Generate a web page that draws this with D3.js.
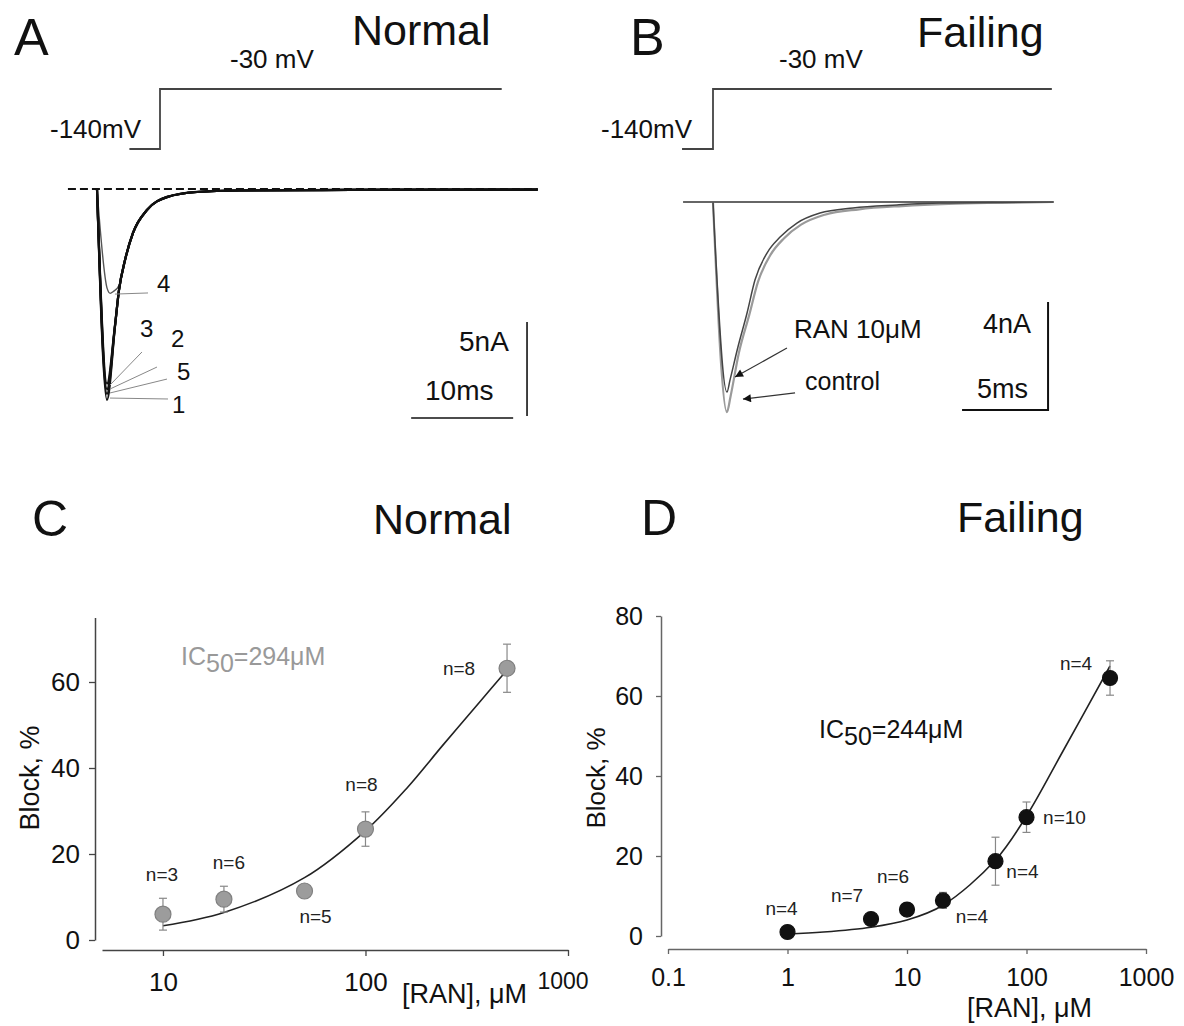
<!DOCTYPE html>
<html>
<head>
<meta charset="utf-8">
<script src="https://cdn.jsdelivr.net/npm/d3@7"></script>
<style>
  body { margin: 0; background: #fff; }
  svg { display: block; font-family: "Liberation Sans", Arial, sans-serif; }
</style>
</head>
<body>
<svg id="fig" width="1184" height="1026"></svg>
<script>
// ---- Data -------------------------------------------------------------------
// voltage protocol (ms, mV)
const stepTimeA = [-3, 0, 0, 33.5];
const stepTimeB = [-1.8, 0, 0, 19.7];
const stepVolt = [-140, -140, -30, -30];

// Panel A: Na current traces, [time ms, current nA]
const traceA1 = [[0, 0], [0.98, -11.22], [1.76, -7.34], [2.16, -5.37], [2.75, -3.78], [3.53, -2.34],
  [4.9, -1.12], [6.86, -0.43], [9.8, -0.16], [14, -0.08], [24.8, -0.05], [43.2, -0.03]];
const traceA2 = [[0, 0], [0.98, -10.65], [1.76, -7.3], [2.16, -5.37], [2.75, -3.78], [3.53, -2.34],
  [4.9, -1.12], [6.86, -0.43], [9.8, -0.16], [14, -0.08], [24.8, -0.05], [43.2, -0.03]];
const traceA3 = [[0, 0], [0.98, -10.35], [1.76, -7.25], [2.16, -5.35], [2.75, -3.76], [3.53, -2.33],
  [4.9, -1.11], [6.86, -0.42], [9.8, -0.15], [14, -0.07], [24.8, -0.04], [43.2, -0.03]];
const traceA5 = [[0, 0], [0.98, -10.9], [1.76, -7.32], [2.16, -5.37], [2.75, -3.78], [3.53, -2.34],
  [4.9, -1.12], [6.86, -0.43], [9.8, -0.16], [14, -0.08], [24.8, -0.05], [43.2, -0.03]];
const traceA4 = [[0, 0], [1.0, -5.3], [1.3, -5.55], [1.6, -5.45], [2.2, -5.1], [2.75, -3.78], [3.53, -2.34],
  [4.9, -1.12], [6.86, -0.43], [9.8, -0.16], [14, -0.08], [24.8, -0.05], [43.2, -0.03]];

// Panel B: control vs RAN 10 uM, [time ms, current nA]
const traceRan = [[0, 0], [0.81, -7.04], [0.99, -6.59], [1.45, -5.37], [1.98, -4.11], [2.44, -2.89],
  [3.14, -1.89], [3.9, -1.3], [4.88, -0.78], [6.22, -0.41], [8.14, -0.22], [10.7, -0.11], [13.2, -0.04], [19.8, 0]];
const traceControl = [[0, 0], [0.81, -7.78], [1.02, -7.2], [1.5, -5.6], [2.1, -4.2], [2.62, -2.95],
  [3.35, -1.95], [4.12, -1.35], [5.12, -0.84], [6.5, -0.47], [8.5, -0.27], [11, -0.15], [13.7, -0.07],
  [16.7, -0.03], [19.8, 0]];

// Panel C: normal
const concC = [10, 20, 50, 100, 500];
const blockC = [6.0, 9.5, 11.4, 25.8, 63.2];
const errC = [3.7, 3.0, 1.5, 4.0, 5.6];
const nC = ["n=3", "n=6", "n=5", "n=8", "n=8"];
const fitConcC = [10, 20, 50, 100, 160, 240, 370, 500];
const fitBlockC = [3.3, 6.4, 14.5, 25.4, 35.3, 45.2, 55.6, 62.8];
const yTicksC = [0, 20, 40, 60];
const xTicksC = [10, 100, 1000];

// Panel D: failing
const concD = [1, 5, 10, 20, 55, 100, 500];
const blockD = [1.0, 4.25, 6.6, 8.9, 18.7, 29.7, 64.5];
const errD = [0, 0, 0, 2.0, 6.0, 3.8, 4.3];
const nD = ["n=4", "n=7", "n=6", "n=4", "n=4", "n=10", "n=4"];
const fitConcD = [1, 2, 5, 10, 20, 55, 100, 200, 500];
const fitBlockD = [0.5, 1.0, 2.2, 4.0, 7.7, 19, 30, 46, 67.5];
const yTicksD = [0, 20, 40, 60, 80];
const xTicksD = [0.1, 1, 10, 100, 1000];

// ---- Setup ------------------------------------------------------------------
const svg = d3.select("#fig");
svg.append("rect").attr("width", 1184).attr("height", 1026).attr("fill", "#fff");

function text(x, y, str, size, opts = {}) {
  const t = svg.append("text").attr("x", x).attr("y", y)
    .attr("font-size", size).attr("fill", opts.fill || "#111")
    .attr("text-anchor", opts.anchor || "start").text(str);
  if (opts.rotate) t.attr("transform", `rotate(-90,${x},${y})`);
  return t;
}

function icLabel(x, y, num, color) {
  const t = svg.append("text").attr("x", x).attr("y", y).attr("font-size", 25).attr("fill", color);
  t.append("tspan").text("IC");
  t.append("tspan").attr("dy", 7).text("50");
  t.append("tspan").attr("dy", -7).text(`=${num}\u03bcM`);
}

svg.append("defs").append("marker")
  .attr("id", "arrow").attr("viewBox", "0 0 10 10")
  .attr("refX", 10).attr("refY", 5)
  .attr("markerWidth", 11).attr("markerHeight", 8)
  .attr("markerUnits", "userSpaceOnUse").attr("orient", "auto")
  .append("path").attr("d", "M0,0L10,5L0,10z").attr("fill", "#111");

const yV = d3.scaleLinear().domain([-140, -30]).range([149, 89]);

// ---- Panel A ----------------------------------------------------------------
const xA = d3.scaleLinear().domain([0, 10]).range([97, 199]);
const yA = d3.scaleLinear().domain([0, -5]).range([189, 283]);
const xStepA = d3.scaleLinear().domain([0, 10]).range([160, 262]);

svg.append("path")
  .attr("d", d3.line().x(d => xStepA(d[0])).y(d => yV(d[1]))(d3.zip(stepTimeA, stepVolt)))
  .attr("fill", "none").attr("stroke", "#444").attr("stroke-width", 1.8);

svg.append("line")
  .attr("x1", xA(-2.85)).attr("x2", xA(43.2)).attr("y1", yA(0)).attr("y2", yA(0))
  .attr("stroke", "#111").attr("stroke-width", 1.8).attr("stroke-dasharray", "8,4");

const lineA = d3.line().x(d => xA(d[0])).y(d => yA(d[1])).curve(d3.curveMonotoneX);
svg.append("path").attr("d", lineA(traceA4)).attr("fill", "none").attr("stroke", "#555").attr("stroke-width", 1.4);
[traceA3, traceA2, traceA5, traceA1].forEach(tr => {
  svg.append("path").attr("d", lineA(tr)).attr("fill", "none").attr("stroke", "#111").attr("stroke-width", 2.2);
});

// leader lines for trace numbers
const leadersA = [
  { from: [1.76, -5.59], to: [5.0, -5.53] },
  { from: [1.27, -10.43], to: [4.41, -8.67] },
  { from: [1.27, -10.64], to: [5.88, -9.47] },
  { from: [1.27, -10.85], to: [6.86, -10.11] },
  { from: [1.27, -11.12], to: [6.96, -11.17] }
];
leadersA.forEach(l => {
  svg.append("line")
    .attr("x1", xA(l.from[0])).attr("y1", yA(l.from[1]))
    .attr("x2", xA(l.to[0])).attr("y2", yA(l.to[1]))
    .attr("stroke", "#888").attr("stroke-width", 1);
});
text(157, 292, "4", 24);
text(140, 337, "3", 24);
text(171, 347, "2", 24);
text(177, 380, "5", 24);
text(172, 413, "1", 24);

// scale bars
svg.append("line").attr("x1", xA(30.8)).attr("x2", xA(40.8)).attr("y1", yA(-12.18)).attr("y2", yA(-12.18))
  .attr("stroke", "#111").attr("stroke-width", 1.6);
svg.append("line").attr("x1", xA(42.16)).attr("x2", xA(42.16)).attr("y1", yA(-7.07)).attr("y2", yA(-12.07))
  .attr("stroke", "#111").attr("stroke-width", 1.6);
text(459, 351, "5nA", 28);
text(425, 400, "10ms", 28);

text(14, 55, "A", 52);
text(352, 45, "Normal", 43);
text(230, 68, "-30 mV", 26);
text(50, 138, "-140mV", 26);

// ---- Panel B ----------------------------------------------------------------
const xB = d3.scaleLinear().domain([0, 5]).range([713, 799]);
const yB = d3.scaleLinear().domain([0, -4]).range([202, 310]);

svg.append("path")
  .attr("d", d3.line().x(d => xB(d[0])).y(d => yV(d[1]))(d3.zip(stepTimeB, stepVolt)))
  .attr("fill", "none").attr("stroke", "#444").attr("stroke-width", 1.8);

svg.append("line")
  .attr("x1", xB(-1.74)).attr("x2", xB(19.8)).attr("y1", yB(0)).attr("y2", yB(0))
  .attr("stroke", "#333").attr("stroke-width", 1.6);

const lineB = d3.line().x(d => xB(d[0])).y(d => yB(d[1])).curve(d3.curveMonotoneX);
svg.append("path").attr("d", lineB(traceControl)).attr("fill", "none").attr("stroke", "#9a9a9a").attr("stroke-width", 2.2);
svg.append("path").attr("d", lineB(traceRan)).attr("fill", "none").attr("stroke", "#444").attr("stroke-width", 1.5);

svg.append("line").attr("x1", xB(4.3)).attr("y1", yB(-5.41)).attr("x2", xB(1.28)).attr("y2", yB(-6.48))
  .attr("stroke", "#333").attr("stroke-width", 1.2).attr("marker-end", "url(#arrow)");
svg.append("line").attr("x1", xB(4.77)).attr("y1", yB(-7.07)).attr("x2", xB(1.74)).attr("y2", yB(-7.3))
  .attr("stroke", "#333").attr("stroke-width", 1.2).attr("marker-end", "url(#arrow)");
text(794, 338, "RAN 10\u03bcM", 26);
text(805, 390, "control", 25);

svg.append("path")
  .attr("d", `M${xB(19.48)},${yB(-3.7)}V${yB(-7.7)}H${xB(14.48)}`)
  .attr("fill", "none").attr("stroke", "#111").attr("stroke-width", 2);
text(983, 333, "4nA", 27);
text(977, 398, "5ms", 27);

text(630, 55, "B", 52);
text(917, 47, "Failing", 43);
text(779, 68, "-30 mV", 26);
text(601, 138, "-140mV", 26);

// ---- Dose-response panels -----------------------------------------------------
function doseResponse(cfg) {
  const { x, y, conc, block, err, labels, fitConc, fitBlock } = cfg;

  const yAxis = d3.axisLeft(y).tickValues(cfg.yTicks).tickSize(cfg.tick).tickSizeOuter(0)
    .tickPadding(cfg.yPad).tickFormat(d3.format("d"));
  const gy = svg.append("g").attr("transform", `translate(${cfg.yAxisX},0)`).call(yAxis);
  const xAxis = d3.axisBottom(x).tickValues(cfg.xTicks).tickSize(cfg.tick).tickSizeOuter(0)
    .tickPadding(cfg.xPad).tickFormat(d => String(d));
  const gx = svg.append("g").attr("transform", `translate(0,${cfg.xAxisY})`).call(xAxis);
  [gx, gy].forEach(g => {
    g.select(".domain").attr("stroke", cfg.axisColor).attr("stroke-width", 1.5);
    g.selectAll(".tick line").attr("stroke", cfg.axisColor).attr("stroke-width", 1.3);
    g.selectAll("text").attr("font-family", "Liberation Sans, Arial, sans-serif")
      .attr("font-size", cfg.tickFont).attr("fill", "#111");
  });
  if (cfg.adjust) cfg.adjust(gx);

  const fit = d3.line().x(d => x(d[0])).y(d => y(d[1])).curve(d3.curveCatmullRom.alpha(0.5));
  svg.append("path").attr("d", fit(d3.zip(fitConc, fitBlock)))
    .attr("fill", "none").attr("stroke", "#222").attr("stroke-width", 1.6);

  const pts = d3.range(conc.length).map(i => ({ c: conc[i], b: block[i], e: err[i], n: labels[i], off: cfg.labelOff[i] }));
  const eb = svg.append("g").attr("stroke", "#888").attr("stroke-width", 1.2);
  pts.filter(d => d.e > 0).forEach(d => {
    const cx = x(d.c);
    eb.append("line").attr("x1", cx).attr("x2", cx).attr("y1", y(d.b - d.e)).attr("y2", y(d.b + d.e));
    eb.append("line").attr("x1", cx - 4).attr("x2", cx + 4).attr("y1", y(d.b - d.e)).attr("y2", y(d.b - d.e));
    eb.append("line").attr("x1", cx - 4).attr("x2", cx + 4).attr("y1", y(d.b + d.e)).attr("y2", y(d.b + d.e));
  });

  svg.append("g").selectAll("circle").data(pts).join("circle")
    .attr("cx", d => x(d.c)).attr("cy", d => y(d.b)).attr("r", cfg.r)
    .attr("fill", cfg.dotFill).attr("stroke", cfg.dotStroke).attr("stroke-width", 1.2);

  svg.append("g").selectAll("text").data(pts).join("text")
    .attr("x", d => x(d.c) + d.off[0]).attr("y", d => y(d.b) + d.off[1])
    .attr("text-anchor", "middle").attr("font-size", 19).attr("fill", "#222")
    .text(d => d.n);
}

// Panel C
const xC = d3.scaleLog().domain([5, 1000]).range([102, 568]);
const yC = d3.scaleLinear().domain([0, 75]).range([940, 617.5]);
doseResponse({
  x: xC, y: yC, conc: concC, block: blockC, err: errC, labels: nC,
  fitConc: fitConcC, fitBlock: fitBlockC, yTicks: yTicksC, xTicks: xTicksC,
  yAxisX: 95, xAxisY: 950, tick: 6, yPad: 9, xPad: 17, tickFont: 26,
  axisColor: "#444", r: 8, dotFill: "#9c9c9c", dotStroke: "#808080",
  labelOff: [[-1, -33], [5, -30], [11, 32], [-4, -38], [-48, 7]],
  adjust: gx => {
    gx.selectAll(".tick text").filter(d => d === 1000)
      .attr("text-anchor", "start").attr("x", -31).attr("y", 39).attr("dy", 0).attr("font-size", 23);
  }
});
text(32, 536, "C", 50);
text(373, 534, "Normal", 43);
icLabel(181, 665, 294, "#999");
text(39, 778, "Block, %", 27, { anchor: "middle", rotate: true });
text(402, 1003, "[RAN], \u03bcM", 27);

// Panel D
const xD = d3.scaleLog().domain([0.1, 1000]).range([668, 1146]);
const yD = d3.scaleLinear().domain([0, 80]).range([936, 616]);
doseResponse({
  x: xD, y: yD, conc: concD, block: blockD, err: errD, labels: nD,
  fitConc: fitConcD, fitBlock: fitBlockD, yTicks: yTicksD, xTicks: xTicksD,
  yAxisX: 661, xAxisY: 949, tick: 5, yPad: 13, xPad: 14, tickFont: 25,
  axisColor: "#666", r: 7.5, dotFill: "#111", dotStroke: "#111",
  labelOff: [[-6, -17], [-24, -17], [-14, -27], [29, 23], [27, 17], [38, 7], [-34, -8]]
});
text(641, 535, "D", 50);
text(957, 532, "Failing", 43);
icLabel(819, 738, 244, "#111");
text(605, 778, "Block, %", 26, { anchor: "middle", rotate: true });
text(967, 1017, "[RAN], \u03bcM", 27);
</script>
</body>
</html>
